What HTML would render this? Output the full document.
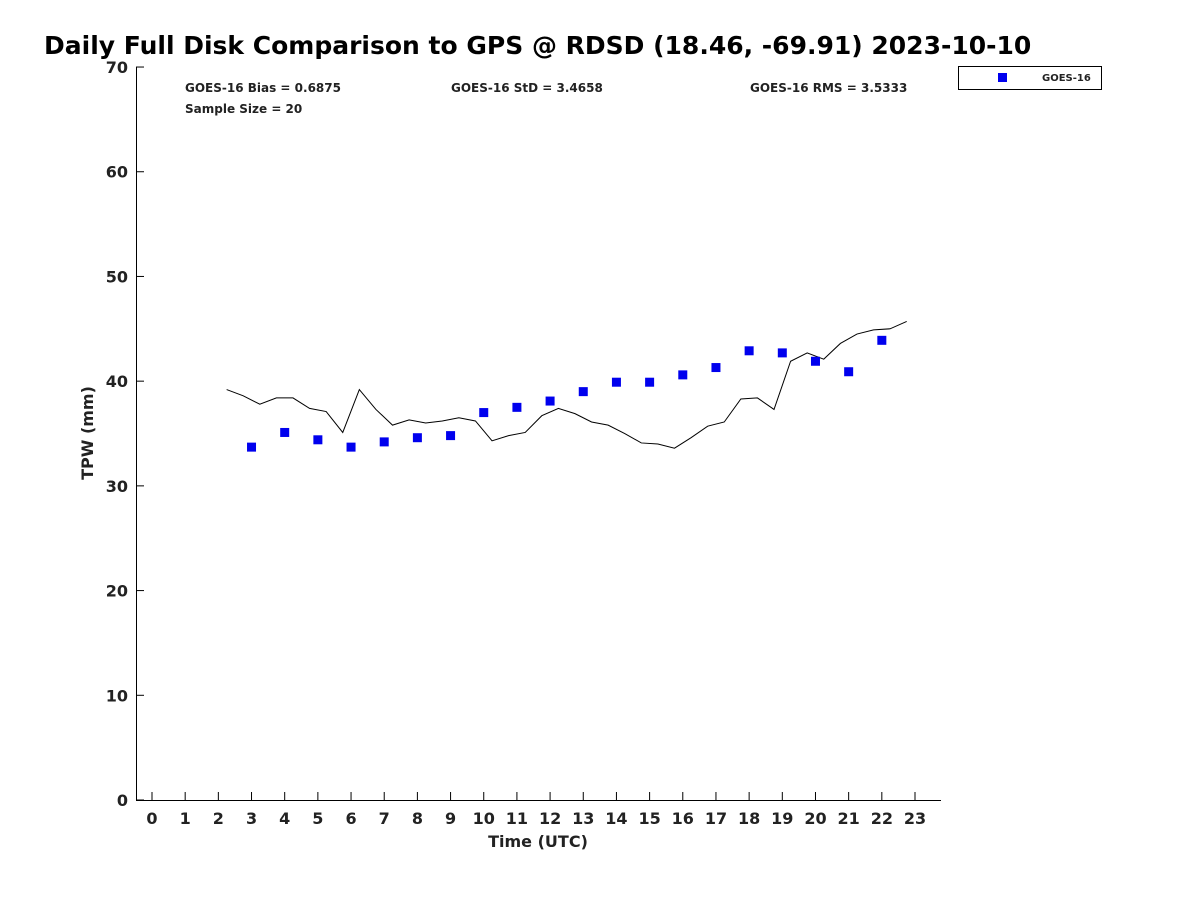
<!DOCTYPE html>
<html><head><meta charset="utf-8"><style>
body{margin:0;background:#fff;}
svg text{font-family:"DejaVu Sans","Liberation Sans",sans-serif;font-weight:bold;fill:#222;}
</style></head><body>
<svg width="1200" height="900" viewBox="0 0 1200 900">
<text x="44" y="54" font-size="25" fill="#000" style="fill:#000">Daily Full Disk Comparison to GPS @ RDSD (18.46, -69.91) 2023-10-10</text>
<g id="axes"></g>
<g id="marks"></g>
<text x="185" y="92" font-size="12">GOES-16 Bias = 0.6875</text>
<text x="451" y="92" font-size="12">GOES-16 StD = 3.4658</text>
<text x="750" y="92" font-size="12">GOES-16 RMS = 3.5333</text>
<text x="185" y="113" font-size="12">Sample Size = 20</text>
<g>
<rect x="958.5" y="66.5" width="143" height="23" fill="#fff" stroke="#000" stroke-width="1"/>
<rect x="998" y="73" width="9" height="9" fill="#0000ee"/>
<text x="1042" y="81" font-size="10">GOES-16</text>
</g>
<text x="538" y="847" font-size="16" text-anchor="middle">Time (UTC)</text>
<text transform="translate(93,433) rotate(-90)" font-size="16" text-anchor="middle">TPW (mm)</text>
</svg>
<script>
const xTicks=[0,1,2,3,4,5,6,7,8,9,10,11,12,13,14,15,16,17,18,19,20,21,22,23];
const yTicks=[0,10,20,30,40,50,60,70];
const gpsTimes=[2.25,2.75,3.25,3.75,4.25,4.75,5.25,5.75,6.25,6.75,7.25,7.75,8.25,8.75,9.25,9.75,10.25,10.75,11.25,11.75,12.25,12.75,13.25,13.75,14.25,14.75,15.25,15.75,16.25,16.75,17.25,17.75,18.25,18.75,19.25,19.75,20.25,20.75,21.25,21.75,22.25,22.75];
const gpsValues=[39.2,38.6,37.8,38.4,38.4,37.4,37.1,35.1,39.2,37.3,35.8,36.3,36.0,36.2,36.5,36.2,34.3,34.8,35.1,36.7,37.4,36.9,36.1,35.8,35.0,34.1,34.0,33.6,34.6,35.7,36.1,38.3,38.4,37.3,41.9,42.7,42.1,43.6,44.5,44.9,45.0,45.7];
const goesTimes=[3,4,5,6,7,8,9,10,11,12,13,14,15,16,17,18,19,20,21,22];
const goesValues=[33.7,35.1,34.4,33.7,34.2,34.6,34.8,37.0,37.5,38.1,39.0,39.9,39.9,40.6,41.3,42.9,42.7,41.9,40.9,43.9];
const NS="http://www.w3.org/2000/svg";
const xs=v=>152+v*33.174, ys=v=>800-v*10.471;
const axes=document.getElementById('axes'), marks=document.getElementById('marks');
function mk(tag,attrs,parent){const e=document.createElementNS(NS,tag);for(const k in attrs)e.setAttribute(k,attrs[k]);parent.appendChild(e);return e;}
const ax=mk('path',{d:'M136.5,67 V800.5 H941',fill:'none',stroke:'#000','stroke-width':1},axes);


xTicks.forEach(t=>{
 const l=mk('line',{x1:xs(t),x2:xs(t),y1:800,y2:792,stroke:'#000'},axes);
 
 
 const tx=mk('text',{x:xs(t),y:824,'font-size':16,'text-anchor':'middle'},axes);tx.textContent=t;
 
 
});
yTicks.forEach(t=>{
 const l=mk('line',{x1:136,x2:144,y1:ys(t),y2:ys(t),stroke:'#000'},axes);
 
 
 const tx=mk('text',{x:128,y:ys(t)+6,'font-size':16,'text-anchor':'end'},axes);tx.textContent=t;
 
 
});
const pl=mk('polyline',{points:gpsTimes.map((t,i)=>xs(t)+','+ys(gpsValues[i])).join(' '),fill:'none',stroke:'#000','stroke-width':1},marks);


goesTimes.forEach((t,i)=>{
 const r=mk('rect',{x:xs(t)-4.5,y:ys(goesValues[i])-4.5,width:9,height:9,fill:'#0000ee'},marks);
 
 
});
</script>
</body></html>
